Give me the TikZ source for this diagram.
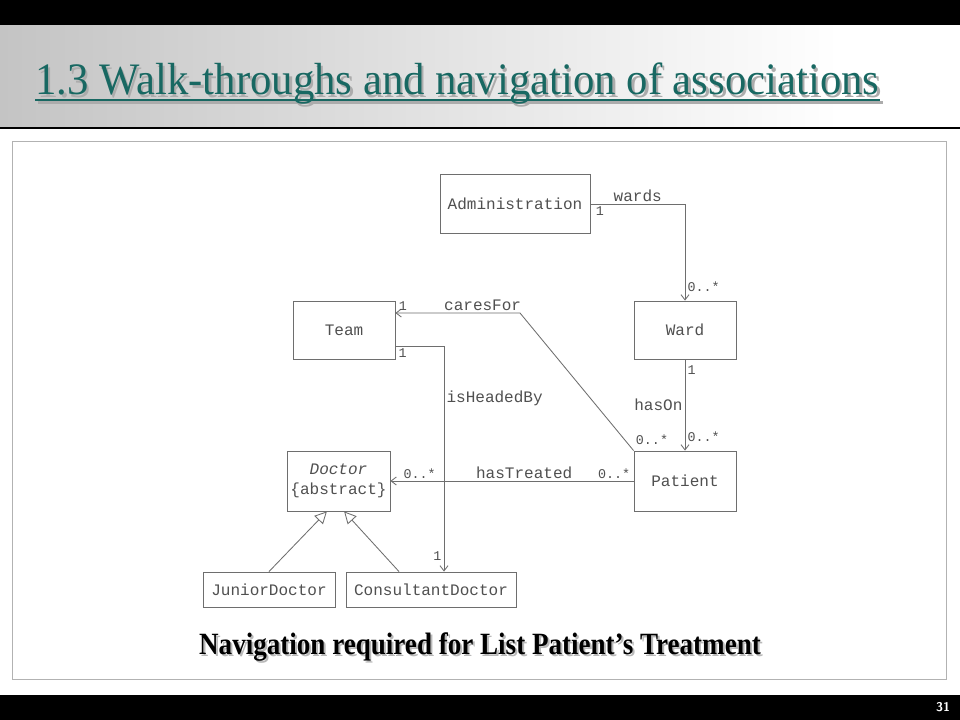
\documentclass[tikz,border=0pt]{standalone}
\usepackage{fontspec}
\setmainfont{Liberation Serif}
\setmonofont{Liberation Mono}
\usepackage{graphicx}
\usetikzlibrary{positioning,arrows.meta,calc}
\definecolor{TitleTeal}{RGB}{24,104,98}
\definecolor{UmlGray}{RGB}{110,110,110}
\definecolor{UmlText}{RGB}{80,80,80}
\definecolor{BandGray}{RGB}{196,196,196}
\newcommand{\slidetitle}{1.3 Walk-throughs and navigation of associations}
\newcommand{\slidecaption}{Navigation required for List Patient’s Treatment}

\begin{document}
\begin{tikzpicture}[x=0.025cm,y=-0.025cm,
cls/.style={rectangle,draw=UmlGray,fill=white,line width=0.6pt,minimum width=2.55cm,minimum height=1.45cm,align=center,inner sep=0pt,text=UmlText,font=\ttfamily\fontsize{11.4}{14}\selectfont},
assoc/.style={-{Straight Barb[length=1.3mm,width=2mm]},draw=UmlGray,line width=0.6pt},
isa/.style={-{Triangle[open,length=3mm,width=3mm,fill=white]},draw=UmlGray,line width=0.6pt},
lbl/.style={text=UmlText,font=\ttfamily\fontsize{11.4}{13}\selectfont,inner sep=1.5pt},
mult/.style={text=UmlText,font=\ttfamily\fontsize{9.5}{11}\selectfont,inner sep=1.5pt}
]
% slide frame
\useasboundingbox (0,0) rectangle (960,720);
\fill[white] (0,0) rectangle (960,720);
\shade[left color=BandGray,right color=white] (0,25) rectangle (840,128);
\fill[black] (0,0) rectangle (960,25);
\draw[line width=1.2pt] (0,128) -- (960,128);
\fill[black] (0,695) rectangle (960,720);
\draw[gray!60] (12,141) rectangle (946,679);
\node[white,font=\sffamily\bfseries\fontsize{9}{10}\selectfont] (pageno) at (943,707.5) {31};

% title with shadow
\node[anchor=base west,inner sep=0pt,text=gray!65,font=\fontsize{32}{36}\selectfont] (titleshadow) at (37.5,97.5) {\scalebox{0.95}[1]{\slidetitle}};
\draw[gray!65,line width=1.6pt] (37.5,102.5) -- (882.5,102.5);
\node[anchor=base west,inner sep=0pt,text=TitleTeal,font=\fontsize{32}{36}\selectfont] (title) at (35,95) {\scalebox{0.95}[1]{\slidetitle}};
\draw[TitleTeal,line width=1.6pt] (35,100) -- (880,100);

% classes
\node[cls,minimum width=3.75cm,minimum height=1.475cm] (adm) at (515,204) {Administration};
\node[cls] (ward) at (685,330) {Ward};
\node[cls] (team) at (344,330) {Team};
\node[cls,minimum height=1.5cm] (pat) at (685,481) {Patient};
\node[cls,minimum width=2.575cm,minimum height=1.5cm] (doc) at (338.5,481) {\textit{Doctor}\\\{abstract\}};
\node[cls,minimum width=3.3cm,minimum height=0.875cm] (jun) at (269,589.5) {JuniorDoctor};
\node[cls,minimum width=4.25cm,minimum height=0.875cm] (con) at (431,589.5) {ConsultantDoctor};

\coordinate (cbend) at (520,313);
\coordinate (hbend) at (444,346);

% associations
\draw[assoc] (adm.east) -| node[lbl,pos=0.25,above]{wards} node[mult,pos=0.05,below]{1} node[mult,pos=0.93,right]{0..*} (ward.north);
\draw[assoc] (ward) -- node[mult,pos=0.12,right]{1} node[lbl,midway,left]{hasOn} node[mult,pos=0.85,right]{0..*} (pat);
\draw[assoc] (pat.north west) -- (cbend) -- node[lbl,pos=0.3,above]{caresFor} node[mult,pos=0.94,above]{1} (team.east |- cbend);
\node[mult,anchor=south west] (carmult) at ([yshift=1mm]pat.north west) {0..*};
\draw[assoc] (team.east |- hbend) -- node[mult,pos=0.15,below]{1} (hbend) -- node[lbl,pos=0.23,right]{isHeadedBy} node[mult,pos=0.93,left]{1} (hbend |- con.north);
\draw[assoc] (pat.west) -- node[lbl,pos=0.45,above]{hasTreated} node[mult,pos=0.08,above]{0..*} node[mult,pos=0.88,above]{0..*} (doc.east);

% generalisation
\draw[isa] (jun.north) -- ([xshift=-0.29cm]doc.south);
\draw[isa] ([xshift=-0.8cm]con.north) -- ([xshift=0.14cm]doc.south);

% caption with shadow
\node[text=gray!55,font=\bfseries\fontsize{22}{26}\selectfont] (capshadow) at (482,649) {\scalebox{0.875}[1]{\slidecaption}};
\node[font=\bfseries\fontsize{22}{26}\selectfont] (caption) at (480,647) {\scalebox{0.875}[1]{\slidecaption}};
\end{tikzpicture}
\end{document}
